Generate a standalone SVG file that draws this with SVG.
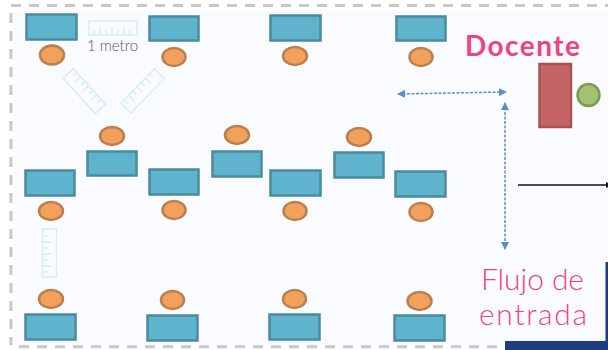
<svg xmlns="http://www.w3.org/2000/svg" width="608" height="350" viewBox="0 0 608 350">
<style>
.desk{fill:#5fb3cd;stroke:#4a8ba1;stroke-width:2.5}
.head{fill:#f2a15c;stroke:#b9804d;stroke-width:2.5}
.ruler{fill:none;stroke:#d3f0f5;stroke-width:1.5}
.border{fill:none;stroke:#c8c8c8;stroke-width:3;stroke-dasharray:10 8}
.flow{fill:none;stroke:#5b8fc9;stroke-width:1.5;stroke-dasharray:3 1.5}
.pink{fill:#ec4580;font-family:Lato,"Liberation Sans",sans-serif}
</style>
<defs>
<marker id="tri" viewBox="0 0 8 8" refX="7" refY="4" markerWidth="8" markerHeight="8" markerUnits="userSpaceOnUse" orient="auto-start-reverse"><path d="M0 0L8 4L0 8Z" fill="#5b8fc9"/></marker>
<marker id="blk" viewBox="0 0 6 6" refX="5" refY="3" markerWidth="6" markerHeight="6" markerUnits="userSpaceOnUse" orient="auto"><path d="M0 0L6 3L0 6Z" fill="#111"/></marker>
<g id="rul"><rect x="0" y="0" width="48" height="14" class="ruler"/><path class="ruler" d="M5 14V9M11 14V6M17 14V9M23 14V6M29 14V9M35 14V6M41 14V9"/></g>
</defs>
<rect x="0" y="0" width="608" height="350" fill="#ffffff"/>
<rect x="14" y="11" width="594" height="334" fill="#fafbfe"/>
<path class="border" d="M11 5.500H608"/>
<path class="border" d="M11 13V345"/>
<path class="border" d="M19 346.700H505"/>
<g id="desks-row1">
<rect class="desk" x="26.500" y="14.500" width="50" height="25"/><rect class="desk" x="149.500" y="16.500" width="49" height="24"/><rect class="desk" x="270.500" y="15.500" width="50" height="25"/><rect class="desk" x="396.500" y="16.500" width="49" height="24"/>
<ellipse class="head" cx="52" cy="55" rx="12" ry="9.500"/><ellipse class="head" cx="174" cy="57" rx="11.500" ry="9"/><ellipse class="head" cx="295" cy="56" rx="12" ry="9"/><ellipse class="head" cx="421" cy="57" rx="11.500" ry="9"/>
</g>
<g id="desks-row2">
<rect class="desk" x="25.500" y="170.500" width="49" height="25"/><rect class="desk" x="87.500" y="151.500" width="49" height="24"/><rect class="desk" x="149.500" y="169.500" width="49" height="25"/><rect class="desk" x="212.500" y="151.500" width="49" height="25"/><rect class="desk" x="270.500" y="170.500" width="50" height="25"/><rect class="desk" x="334.500" y="152.500" width="49" height="25"/><rect class="desk" x="395.500" y="171.500" width="50" height="25"/>
<ellipse class="head" cx="51" cy="211" rx="12" ry="9"/><ellipse class="head" cx="112" cy="136" rx="12" ry="9"/><ellipse class="head" cx="174" cy="210" rx="11.500" ry="9"/><ellipse class="head" cx="237" cy="135" rx="12" ry="9"/><ellipse class="head" cx="295" cy="211" rx="11.500" ry="9"/><ellipse class="head" cx="359" cy="137" rx="12" ry="9"/><ellipse class="head" cx="421" cy="212" rx="11.500" ry="9"/>
</g>
<g id="desks-row3">
<rect class="desk" x="25.500" y="314.500" width="50" height="25"/><rect class="desk" x="147.500" y="315.500" width="50" height="25"/><rect class="desk" x="269.500" y="314.500" width="50" height="25"/><rect class="desk" x="394.500" y="315.500" width="50" height="25"/>
<ellipse class="head" cx="51" cy="299" rx="12" ry="9"/><ellipse class="head" cx="172.500" cy="300" rx="11.500" ry="9"/><ellipse class="head" cx="294.500" cy="299" rx="11.500" ry="9"/><ellipse class="head" cx="419.500" cy="301" rx="12" ry="9"/>
</g>
<g id="rulers">
<use href="#rul" x="89" y="21"/>
<use href="#rul" transform="translate(63,78) rotate(48) scale(1,-1)"/>
<use href="#rul" transform="translate(131,113) rotate(-46) scale(1,-1)"/>
<use href="#rul" transform="translate(56.500,277) rotate(-90) scale(1,-1)"/>
</g>
<g id="label-metro"><text x="87" y="51" font-family="Lato,'Liberation Sans',sans-serif" font-size="15" font-weight="300" fill="#555555" textLength="51">1 metro</text></g>
<g id="docente"><rect x="539.500" y="64" width="31.500" height="63" fill="#c56464" stroke="#a55353" stroke-width="2.500"/><circle cx="588.500" cy="95" r="11" fill="#a4c170" stroke="#7d9a55" stroke-width="2.500"/>
<text class="pink" x="465" y="56" font-size="28" font-weight="700" textLength="115">Docente</text></g>
<g id="connectors">
<path class="flow" d="M398 94L506 92" marker-start="url(#tri)" marker-end="url(#tri)"/>
<path class="flow" d="M505 103V249" marker-start="url(#tri)" marker-end="url(#tri)"/>
<path d="M518 185H611" stroke="#111" stroke-width="1.300" fill="none" marker-end="url(#blk)"/>
</g>
<g id="flujo"><text class="pink" x="481" y="289.500" font-size="30" font-weight="300" textLength="103">Flujo de</text><text class="pink" x="479" y="324.500" font-size="30" font-weight="300" textLength="108">entrada</text></g>
<g id="door"><rect x="505" y="341" width="103" height="9" fill="#1f3d7a"/><rect x="605.500" y="262" width="2.500" height="80" fill="#1f3d7a"/></g>
</svg>
